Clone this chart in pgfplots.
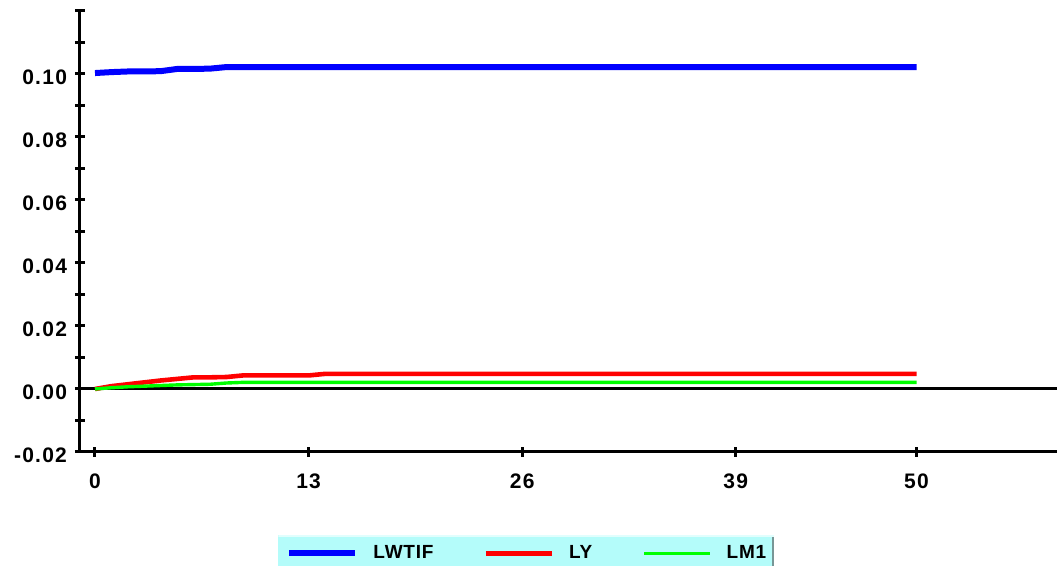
\documentclass[border=0pt]{standalone}
\usepackage{pgfplots}
\pgfplotsset{compat=1.18}
\usepackage{fontspec}
\setmainfont{Liberation Sans}
\definecolor{legcyan}{RGB}{180,252,250}
\definecolor{legedge}{RGB}{120,150,150}
\definecolor{pblue}{RGB}{0,0,255}
\definecolor{pred}{RGB}{255,0,0}
\definecolor{pgreen}{RGB}{0,255,0}
\begin{document}
\begin{tikzpicture}
\useasboundingbox (-40pt,-57pt) rectangle (488.5pt,226pt);
\begin{axis}[
  at={(0,0)}, anchor=south west,
  scale only axis, width=488.5pt, height=220.5pt,
  xmin=-0.913, xmax=58.55, ymin=-0.02, ymax=0.12,
  axis lines=left,
  axis line style={-, line width=1.5pt, black},
  xtick={0,13,26,39,50},
  ytick={-0.02,0,0.02,0.04,0.06,0.08,0.10},
  minor ytick={-0.01,0.01,0.03,0.05,0.07,0.09,0.11,0.12},
  tick align=center,
  major tick length=5pt, minor tick length=5pt,
  tick style={black, line width=1.5pt},
  scaled y ticks=false,
  /pgf/number format/assume math mode=true,
  yticklabel style={/pgf/number format/fixed, /pgf/number format/fixed zerofill, /pgf/number format/precision=2, yshift=-1.8pt, xshift=-0.5pt},
  ticklabel style={font=\bfseries\fontsize{10.5}{12}\selectfont\addfontfeatures{LetterSpace=6}},
  xticklabel style={yshift=-5pt},
  legend columns=3,
  legend cell align=left,
  legend image code/.code={\draw[#1] (0pt,0pt) -- (33pt,0pt);},
  legend style={
    at={(axis description cs:0.2027,-0.1882)}, anchor=north west,
    fill=legcyan, draw=none,
    inner xsep=4pt, inner ysep=5pt,
    font=\bfseries\fontsize{9.5}{11}\selectfont\addfontfeatures{LetterSpace=4},
    nodes={inner sep=0pt},
    /tikz/every odd column/.append style={column sep=7.5pt},
    /tikz/every even column/.append style={column sep=25pt},
    /tikz/path picture={\fill[legedge] ([xshift=-1.2pt]path picture bounding box.north east) rectangle (path picture bounding box.south east);
      \fill[white!60!legcyan] (path picture bounding box.north west) rectangle ([yshift=-1pt]path picture bounding box.north east);},
  },
]
\addplot[black, line width=1.5pt, forget plot] coordinates {(-0.913,0) (58.55,0)};
\addplot[pblue, line width=3pt] coordinates {
(0,0.1003)(1,0.1006)(2,0.1008)(3,0.1008)(4,0.1009)(5,0.1016)(6,0.1016)(7,0.1017)(8,0.1022)(9,0.1022)(50,0.1022)};
\addlegendentry{LWTIF}
\addplot[pred, line width=2.3pt] coordinates {
(0,0)(1,0.0009)(2,0.0015)(3,0.0021)(4,0.0027)(5,0.0032)(6,0.0037)(7,0.0037)(8,0.0038)(9,0.0043)(10,0.0043)(11,0.0043)(12,0.0043)(13,0.0043)(14,0.0048)(50,0.0048)};
\addlegendentry{LY}
\addplot[pgreen, line width=1.7pt] coordinates {
(0,0)(1,0.0004)(2,0.0007)(3,0.0009)(4,0.0011)(5,0.0013)(6,0.0014)(7,0.0015)(8,0.0019)(9,0.0021)(50,0.0021)};
\addlegendentry{LM1}
\end{axis}
\end{tikzpicture}
\end{document}
